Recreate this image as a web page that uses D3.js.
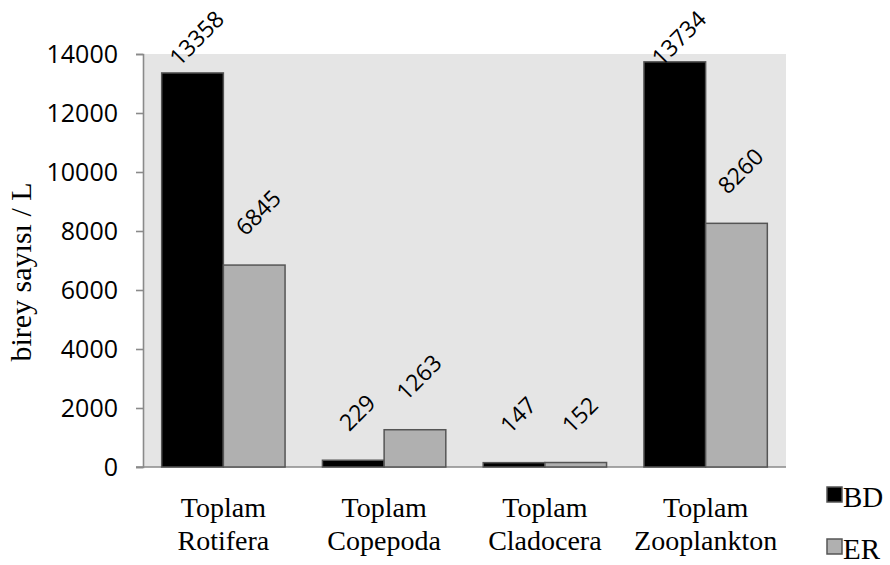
<!DOCTYPE html>
<html>
<head>
<meta charset="utf-8">
<script src="https://cdn.jsdelivr.net/npm/d3@7"></script>
<style>
  html, body { margin: 0; padding: 0; background: #ffffff; }
  svg { display: block; }
</style>
</head>
<body>
<svg id="chart" width="890" height="565"></svg>
<script>
// Zooplankton totals (individuals per litre) for the two stations
const categories = [["Toplam", "Rotifera"], ["Toplam", "Copepoda"], ["Toplam", "Cladocera"], ["Toplam", "Zooplankton"]];
const seriesNames = ["BD", "ER"];
const valuesBD = [13358, 229, 147, 13734];
const valuesER = [6845, 1263, 152, 8260];
const yTicks = [0, 2000, 4000, 6000, 8000, 10000, 12000, 14000];
const yTitle = "birey sayısı / L";

const colors = { BD: "#000000", ER: "#b0b0b0" };
const svg = d3.select("#chart");

const plot = { left: 143, right: 786, top: 54, bottom: 467 };

const x0 = d3.scaleBand()
  .domain(d3.range(categories.length))
  .range([plot.left, plot.right])
  .paddingInner(0.2325)
  .paddingOuter(0.1162);
const x1 = d3.scaleBand()
  .domain(seriesNames)
  .range([0, x0.bandwidth()]);
const y = d3.scaleLinear().domain([0, 14000]).range([plot.bottom, plot.top]);

// plot background
svg.append("rect")
  .attr("x", plot.left).attr("y", plot.top)
  .attr("width", plot.right - plot.left).attr("height", plot.bottom - plot.top)
  .attr("fill", "#e5e5e5");

// y axis
const yAxis = svg.append("g")
  .attr("transform", `translate(${plot.left},0)`)
  .call(d3.axisLeft(y).tickValues(yTicks).tickSize(7).tickPadding(18).tickFormat(d3.format("d")));
yAxis.select(".domain").attr("stroke", "#8a8a8a").attr("stroke-width", 1.6);
yAxis.selectAll(".tick line").attr("stroke", "#8a8a8a").attr("stroke-width", 1.6);
yAxis.selectAll(".tick text")
  .attr("fill", "#000")
  .style("font-family", "'Open Sans', sans-serif")
  .style("font-size", "25px");

// x axis line
svg.append("line")
  .attr("x1", plot.left - 7).attr("x2", plot.right)
  .attr("y1", y(0)).attr("y2", y(0))
  .attr("stroke", "#8a8a8a").attr("stroke-width", 1.6);

// bars
const rows = categories.map((c, i) => ({ i, vals: [
  { key: "BD", value: valuesBD[i] },
  { key: "ER", value: valuesER[i] }
]}));

const groups = svg.selectAll("g.cat").data(rows).join("g")
  .attr("class", "cat")
  .attr("transform", d => `translate(${x0(d.i)},0)`);

groups.selectAll("rect").data(d => d.vals).join("rect")
  .attr("x", d => x1(d.key))
  .attr("y", d => y(d.value))
  .attr("width", x1.bandwidth())
  .attr("height", d => y(0) - y(d.value))
  .attr("fill", d => colors[d.key])
  .attr("stroke", "#555555")
  .attr("stroke-width", 1.5);

// rotated value labels, kept inside the top edge of the drawing
const labelSize = 23;
const capH = 0.72 * labelSize;
const k = Math.SQRT1_2;
rows.forEach(r => {
  r.vals.forEach(v => {
    const cx = x0(r.i) + x1(v.key) + x1.bandwidth() / 2;
    const top = y(v.value);
    const t = svg.append("text")
      .text(d3.format("d")(v.value))
      .style("font-family", "'Open Sans', sans-serif")
      .style("font-size", labelSize + "px")
      .attr("fill", "#000");
    const L = t.node().getComputedTextLength();
    const boxW = k * (L + capH);
    const sx = cx + 4 - boxW / 2 + k * capH;
    const sy = Math.max(top - 28, 9 + boxW);
    t.attr("transform", `translate(${sx},${sy}) rotate(-45)`);
  });
});

// category labels
const catLabels = svg.append("g");
categories.forEach((lines, i) => {
  const t = catLabels.append("text")
    .attr("text-anchor", "middle")
    .style("font-family", "'Liberation Serif', 'Times New Roman', serif")
    .style("font-size", "28px")
    .attr("fill", "#000");
  lines.forEach((ln, j) => {
    t.append("tspan")
      .attr("x", x0(i) + x0.bandwidth() / 2)
      .attr("y", 517 + j * 33)
      .text(ln);
  });
});

// y axis title
svg.append("text")
  .attr("transform", "translate(31,272) rotate(-90)")
  .attr("text-anchor", "middle")
  .style("font-family", "'Liberation Serif', 'Times New Roman', serif")
  .style("font-size", "30px")
  .attr("fill", "#000")
  .text(yTitle);

// legend
const legend = svg.append("g");
seriesNames.forEach((name, i) => {
  const gy = 487 + i * 52;
  legend.append("rect")
    .attr("x", 827).attr("y", gy)
    .attr("width", 15).attr("height", 15)
    .attr("fill", colors[name])
    .attr("stroke", "#555555").attr("stroke-width", 1.5);
  legend.append("text")
    .attr("x", 843).attr("y", gy + 20)
    .style("font-family", "'Liberation Serif', 'Times New Roman', serif")
    .style("font-size", "29px")
    .attr("fill", "#000")
    .text(name);
});
</script>
</body>
</html>
